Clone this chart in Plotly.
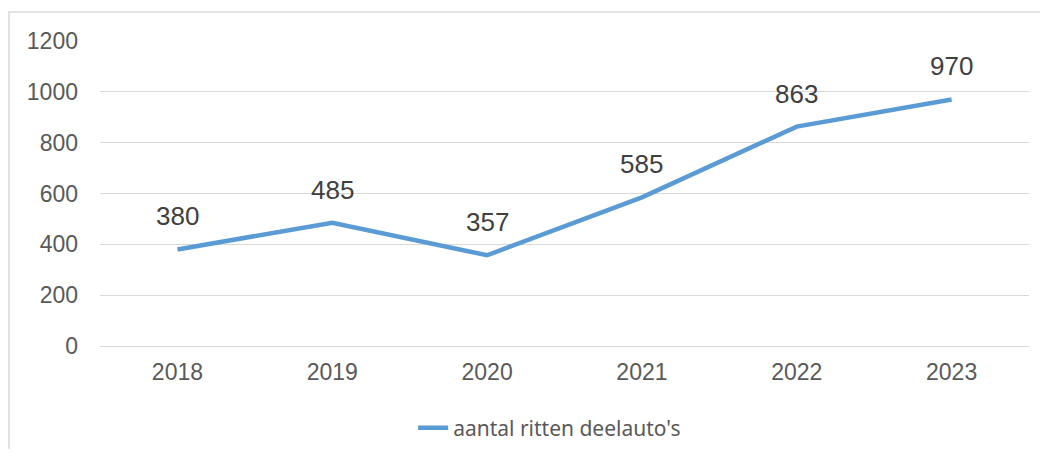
import plotly.graph_objects as go

years = ["2018", "2019", "2020", "2021", "2022", "2023"]
rides = [380, 485, 357, 585, 863, 970]
series_name = "aantal ritten deelauto's"
y_ticks = [0, 200, 400, 600, 800, 1000, 1200]

# page body adds an 8px margin on every side; size the figure so the page is exactly 1048x457
OFF = 8
W, H = 1048 - 2 * OFF, 457 - 2 * OFF
L, R, T, B = 100 - OFF, 1048 - OFF - 1029, 41 - OFF, (457 - OFF) - 346
pw, ph = W - L - R, H - T - B

fig = go.Figure()
fig.add_trace(go.Scatter(
    x=years, y=rides, mode="lines", name=series_name,
    line=dict(color="#5B9BD5", width=4.5, shape="linear"),
))
for i, yv in enumerate(rides):
    fig.add_annotation(x=i, y=yv, text=str(yv), showarrow=False,
                       yshift=33, font=dict(family="Liberation Sans, Arial", size=26, color="#404040"))

fig.add_shape(type="rect", xref="paper", yref="paper",
              x0=(9 - OFF - L) / pw, x1=(W + 20 - L) / pw,
              y0=(H - B - (H + 20)) / ph, y1=(H - B - (12 - OFF)) / ph,
              line=dict(color="#D9D9D9", width=1.5), fillcolor="rgba(0,0,0,0)", layer="below")

fig.update_layout(
    width=W, height=H,
    margin=dict(l=L, r=R, t=T, b=B, autoexpand=False),
    paper_bgcolor="white", plot_bgcolor="white",
    font=dict(family="Liberation Sans, Arial", size=23, color="#595959"),
    showlegend=True,
    legend=dict(orientation="h", x=0.484, xanchor="center", y=(346 - 428) / ph, yanchor="middle",
                font=dict(family="Noto Sans, Carlito, Calibri", size=21, color="#595959")),
    xaxis=dict(type="category", range=[-0.5, 5.5], showgrid=False, showline=False,
               ticks="", ticklabelstandoff=10, tickfont=dict(size=23)),
    yaxis=dict(range=[0, 1200], tickvals=y_ticks, showgrid=True, gridcolor="#D9D9D9",
               gridwidth=1.3, zeroline=True, zerolinecolor="#D9D9D9", zerolinewidth=1.3,
               showline=False, ticks="", ticklabelstandoff=21, tickfont=dict(size=23)),
)
fig.write_html("out.html")
